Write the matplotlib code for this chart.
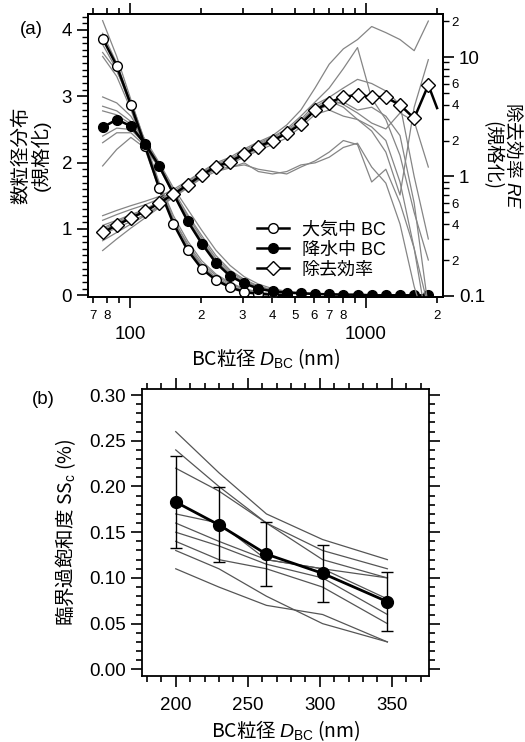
import numpy as np
import matplotlib
matplotlib.use('Agg')
import matplotlib.pyplot as plt
from matplotlib.ticker import FixedLocator, FixedFormatter, FuncFormatter, MultipleLocator
from matplotlib.lines import Line2D

plt.rcParams['font.family'] = ['Liberation Sans', 'Noto Sans CJK JP']
plt.rcParams['mathtext.fontset'] = 'custom'
plt.rcParams['mathtext.rm'] = 'Liberation Sans'
plt.rcParams['mathtext.it'] = 'Liberation Sans:italic'
plt.rcParams['font.size'] = 13

# ---------------- (a) size distributions and removal efficiency ----------------
d_bc = [76.6, 87.9, 100.9, 115.9, 133.0, 152.8, 175.4, 201.4, 231.2, 265.5, 304.8, 349.9,
        401.8, 461.3, 529.7, 608.1, 698.2, 801.7, 920.4, 1056.8, 1213.4, 1393.2, 1599.6, 1836.5]

air_bc = [3.87, 3.46, 2.87, 2.25, 1.61, 1.08, 0.68, 0.40, 0.23, 0.12, 0.05, 0.02, 0.01, 0.0]
rain_bc = [2.53, 2.65, 2.55, 2.28, 1.95, 1.53, 1.12, 0.78, 0.49, 0.29, 0.18, 0.10, 0.06, 0.04,
           0.03, 0.02, 0.015, 0.01, 0.01, 0.0, 0.0, 0.0, 0.0, 0.0]

# removal efficiency (last value: end of line without marker)
d_re = d_bc + [2000]
re_mean = [0.34, 0.39, 0.45, 0.51, 0.60, 0.71, 0.85, 1.03, 1.21, 1.33, 1.54, 1.78, 1.99, 2.30,
           2.75, 3.60, 4.15, 4.65, 4.81, 4.65, 4.60, 3.97, 3.07, 5.83, 3.74]

# individual samples (thin grey)
air_each = [
    [4.14, 3.60, 2.95, 2.30, 1.68, 1.15, 0.75, 0.45, 0.27, 0.15, 0.07, 0.03, 0.01, 0.0],
    [3.95, 3.50, 2.90, 2.27, 1.66, 1.14, 0.78, 0.48, 0.30, 0.17, 0.09, 0.04, 0.02, 0.01],
    [3.78, 3.40, 2.85, 2.25, 1.62, 1.10, 0.72, 0.44, 0.25, 0.13, 0.06, 0.03, 0.01, 0.0],
    [3.66, 3.38, 2.92, 2.32, 1.70, 1.20, 0.82, 0.52, 0.32, 0.19, 0.10, 0.05, 0.02, 0.01],
    [3.60, 3.30, 2.80, 2.20, 1.60, 1.08, 0.70, 0.42, 0.24, 0.12, 0.05, 0.02, 0.01, 0.0],
]
rain_each = [
    [2.99, 2.90, 2.70, 2.35, 2.00, 1.62, 1.30, 0.98, 0.68, 0.45, 0.28, 0.17, 0.10, 0.06,
     0.04, 0.03, 0.02, 0.01, 0.01, 0.01, 0.0, 0.0, 0.0, 0.0],
    [2.85, 2.78, 2.62, 2.32, 1.98, 1.58, 1.22, 0.90, 0.60, 0.38, 0.24, 0.14, 0.08, 0.05,
     0.03, 0.02, 0.02, 0.01, 0.01, 0.0, 0.0, 0.0, 0.0, 0.0],
    [2.78, 2.72, 2.58, 2.30, 1.96, 1.56, 1.16, 0.82, 0.53, 0.33, 0.20, 0.12, 0.07, 0.04,
     0.03, 0.02, 0.01, 0.01, 0.0, 0.0, 0.0, 0.0, 0.0, 0.0],
    [2.40, 2.52, 2.50, 2.28, 1.95, 1.55, 1.15, 0.80, 0.52, 0.32, 0.19, 0.11, 0.07, 0.04,
     0.03, 0.02, 0.01, 0.01, 0.0, 0.0, 0.0, 0.0, 0.0, 0.0],
    [2.30, 2.45, 2.45, 2.25, 1.93, 1.53, 1.12, 0.79, 0.50, 0.31, 0.19, 0.11, 0.06, 0.04,
     0.03, 0.02, 0.01, 0.01, 0.0, 0.0, 0.0, 0.0, 0.0, 0.0],
    [1.95, 2.20, 2.38, 2.22, 1.92, 1.52, 1.20, 0.86, 0.56, 0.36, 0.22, 0.13, 0.08, 0.05,
     0.03, 0.02, 0.01, 0.01, 0.0, 0.0, 0.0, 0.0, 0.0, 0.0],
]
re_each = [
    [0.47, 0.52, 0.57, 0.62, 0.68, 0.78, 0.92, 1.10, 1.30, 1.45, 1.70, 1.95, 2.20, 2.70,
     3.60, 5.50, 8.70, 11.7, 14.0, 18.0, 16.0, 14.0, 11.3, 20.0],
    [0.43, 0.48, 0.53, 0.58, 0.65, 0.75, 0.90, 1.08, 1.27, 1.40, 1.65, 1.90, 2.15, 2.50,
     3.20, 4.20, 5.50, 8.00, 12.0, 4.50, 3.00, 1.50, 0.50, 0.20],
    [0.39, 0.43, 0.48, 0.53, 0.61, 0.72, 0.86, 1.05, 1.22, 1.35, 1.60, 1.85, 2.10, 2.45,
     3.00, 4.00, 4.60, 5.50, 6.50, 6.00, 5.20, 4.00, 1.00, 0.30],
    [0.36, 0.41, 0.46, 0.51, 0.60, 0.70, 0.84, 1.00, 1.20, 1.30, 1.50, 1.70, 1.95, 2.30,
     2.80, 3.50, 4.00, 4.20, 3.60, 3.80, 3.20, 2.20, 0.60, 0.08],
    [0.29, 0.34, 0.40, 0.47, 0.56, 0.68, 0.82, 0.98, 1.15, 1.28, 1.45, 1.65, 1.85, 2.10,
     2.60, 3.30, 3.60, 3.20, 3.00, 2.60, 2.00, 0.90, 0.25, 0.05],
    [0.33, 0.37, 0.42, 0.48, 0.57, 0.68, 0.82, 0.99, 1.15, 1.20, 1.25, 1.15, 1.10, 1.05,
     1.20, 1.35, 1.60, 2.00, 1.85, 0.90, 1.15, 0.60, 0.25, 0.08],
    [0.24, 0.30, 0.37, 0.45, 0.55, 0.67, 0.80, 0.97, 1.10, 1.18, 1.30, 1.10, 1.05, 1.10,
     1.25, 1.30, 1.45, 1.75, 1.90, 1.20, 0.88, 0.40, 0.12, 0.05],
    [0.37, 0.42, 0.47, 0.53, 0.62, 0.73, 0.87, 1.06, 1.25, 1.38, 1.60, 1.80, 2.05, 2.35,
     2.90, 3.80, 4.50, 4.00, 3.40, 2.80, 2.50, 3.40, 2.90, 1.20],
    [0.35, 0.40, 0.46, 0.52, 0.61, 0.72, 0.86, 1.04, 1.22, 1.36, 1.58, 1.82, 2.00, 2.40,
     2.85, 3.70, 4.30, 3.80, 3.00, 2.40, 1.60, 0.70, 3.80, 9.50],
]

# ---------------- (b) critical supersaturation ----------------
ss_d = [200, 230, 263, 302, 347]
ss_mean = [0.183, 0.158, 0.126, 0.105, 0.074]
ss_err = [0.050, 0.041, 0.035, 0.031, 0.032]
ss_each = [
    [0.26, 0.215, 0.17, 0.142, 0.12],
    [0.24, 0.200, 0.16, 0.130, 0.11],
    [0.22, 0.195, 0.16, 0.120, 0.10],
    [0.17, 0.160, 0.12, 0.110, 0.10],
    [0.16, 0.140, 0.12, 0.110, 0.077],
    [0.15, 0.135, 0.115, 0.100, 0.06],
    [0.14, 0.120, 0.11, 0.090, 0.05],
    [0.11, 0.090, 0.07, 0.060, 0.03],
    [0.13, 0.110, 0.08, 0.050, 0.03],
]

fig = plt.figure(figsize=(5.25, 7.42), dpi=100)
ax1 = fig.add_axes([0.1676, 0.5997, 0.6762, 0.3814])
ax2 = ax1.twinx()

grey = '#858585'
for ys in air_each:
    ax1.plot(d_bc[:len(ys)], ys, color=grey, lw=0.9)
for ys in rain_each:
    ax1.plot(d_bc, ys, color=grey, lw=0.9)
ax1.plot(d_bc[:len(air_bc)], air_bc, '-o', color='black', lw=1.8, ms=7,
         mfc='white', mec='black', mew=1.0, zorder=5)
ax1.plot(d_bc, rain_bc, '-o', color='black', lw=1.8, ms=7,
         mfc='black', mec='black', mew=1.0, zorder=6)

for ys in re_each:
    ax2.plot(d_bc, ys, color=grey, lw=0.9)
ax2.plot(d_re, re_mean, '-D', color='black', lw=1.8, ms=7.5, mfc='white', mec='black',
         mew=1.0, markevery=list(range(len(d_bc))), zorder=5)

ax1.set_xscale('log')
ax1.set_xlim(66.4, 2119)
ax1.set_ylim(-0.026, 4.24)
ax2.set_yscale('log')
ax2.set_ylim(0.098, 22.9)

lw_sp = 1.3
for a in (ax1, ax2):
    for s in a.spines.values():
        s.set_linewidth(lw_sp)

tick_fs = 13.5
minor_fs = 9.5

# x axis: Igor-like log labels
ax1.xaxis.set_major_locator(FixedLocator([100, 1000]))
ax1.xaxis.set_major_formatter(FixedFormatter(['100', '1000']))
minors = [70, 80, 90, 200, 300, 400, 500, 600, 700, 800, 900, 2000]
ax1.xaxis.set_minor_locator(FixedLocator(minors))


def minor_lab(v, pos):
    if round(v) in (90, 900):
        return ''
    return str(int(round(v / 10 ** np.floor(np.log10(v)))))


ax1.xaxis.set_minor_formatter(FuncFormatter(minor_lab))
ax1.tick_params(axis='x', which='both', top=True, direction='out', width=1.2)
ax1.tick_params(axis='x', which='major', length=8, labelsize=tick_fs, pad=13)
ax1.tick_params(axis='x', which='minor', length=4, labelsize=minor_fs, pad=5)

ax1.yaxis.set_major_locator(MultipleLocator(1))
ax1.yaxis.set_minor_locator(MultipleLocator(0.1))
ax1.yaxis.set_major_formatter(FuncFormatter(lambda v, p: '%d' % round(v)))
ax1.tick_params(axis='y', which='major', direction='out', length=8, width=1.2, labelsize=tick_fs)
ax1.tick_params(axis='y', which='minor', direction='out', length=4, width=1.0)

ax2.yaxis.set_major_locator(FixedLocator([0.1, 1, 10]))
ax2.yaxis.set_major_formatter(FixedFormatter(['0.1', '1', '10']))
r_minor = [0.2, 0.3, 0.4, 0.5, 0.6, 0.7, 0.8, 0.9, 2, 3, 4, 5, 6, 7, 8, 9, 20]
ax2.yaxis.set_minor_locator(FixedLocator(r_minor))


def rminor_lab(v, pos):
    d = int(round(v / 10 ** np.floor(np.log10(v) + 1e-9)))
    return str(d) if d in (2, 4, 6) else ''


ax2.yaxis.set_minor_formatter(FuncFormatter(rminor_lab))
ax2.tick_params(axis='y', which='major', direction='out', length=8, width=1.2, labelsize=tick_fs)
ax2.tick_params(axis='y', which='minor', direction='out', length=4, width=1.0, labelsize=minor_fs, pad=2)

lab_fs = 14
ax1.set_xlabel('BC粒径 $D_{\\mathrm{BC}}$ (nm)', family='Noto Sans CJK JP', fontsize=lab_fs, labelpad=2)
ax1.set_ylabel('数粒径分布\n(規格化)', fontsize=lab_fs, labelpad=8, linespacing=1.0)
ax2.set_ylabel('除去効率 $\\mathit{RE}$\n(規格化)', family='Noto Sans CJK JP', fontsize=13.5,
               rotation=270, linespacing=1.0, va='center', ha='center')
ax2.yaxis.set_label_coords(1.167, 0.5)

handles = [
    Line2D([], [], color='black', lw=1.8, marker='o', ms=7, mfc='white', mec='black'),
    Line2D([], [], color='black', lw=1.8, marker='o', ms=7, mfc='black', mec='black'),
    Line2D([], [], color='black', lw=1.8, marker='D', ms=7.5, mfc='white', mec='black'),
]
ax2.legend(handles, ['大気中 BC', '降水中 BC', '除去効率'], loc='center left',
           bbox_to_anchor=(0.455, 0.166), frameon=False, fontsize=13,
           handlelength=1.8, handletextpad=0.7, labelspacing=0.18, borderaxespad=0)

fig.text(20 / 525, 1 - 30 / 742, '(a)', fontsize=tick_fs, va='center', ha='left')

# ---------------- panel (b) ----------------
axb = fig.add_axes([0.270, 0.0889, 0.5477, 0.3868])
for ys in ss_each:
    axb.plot(ss_d, ys, color='#555555', lw=0.9)
axb.errorbar(ss_d, ss_mean, yerr=ss_err, fmt='-o', color='black', lw=2.0, ms=8.5,
             elinewidth=1.0, capsize=4.5, capthick=1.0, zorder=5)
axb.set_xlim(176.4, 376.1)
axb.set_ylim(-0.0073, 0.3066)
axb.xaxis.set_major_locator(MultipleLocator(50))
axb.xaxis.set_minor_locator(MultipleLocator(10))
axb.yaxis.set_major_locator(MultipleLocator(0.05))
axb.yaxis.set_minor_locator(MultipleLocator(0.01))
axb.yaxis.set_major_formatter(FuncFormatter(lambda v, p: '%.2f' % v))
axb.tick_params(which='both', direction='out', top=True, right=True, width=1.2)
axb.tick_params(which='major', length=8, labelsize=tick_fs)
axb.tick_params(which='minor', length=4)
axb.tick_params(axis='x', which='major', pad=7)
for s in axb.spines.values():
    s.set_linewidth(lw_sp)
axb.set_xlabel('BC粒径 $D_{\\mathrm{BC}}$ (nm)', family='Noto Sans CJK JP', fontsize=lab_fs, labelpad=3)
axb.set_ylabel('臨界過飽和度 SS$_{\\mathrm{c}}$ (%)', family='Noto Sans CJK JP', fontsize=lab_fs, labelpad=8)

fig.text(32 / 525, 1 - 400 / 742, '(b)', fontsize=tick_fs, va='center', ha='left')

fig.savefig('out.png', dpi=100)
